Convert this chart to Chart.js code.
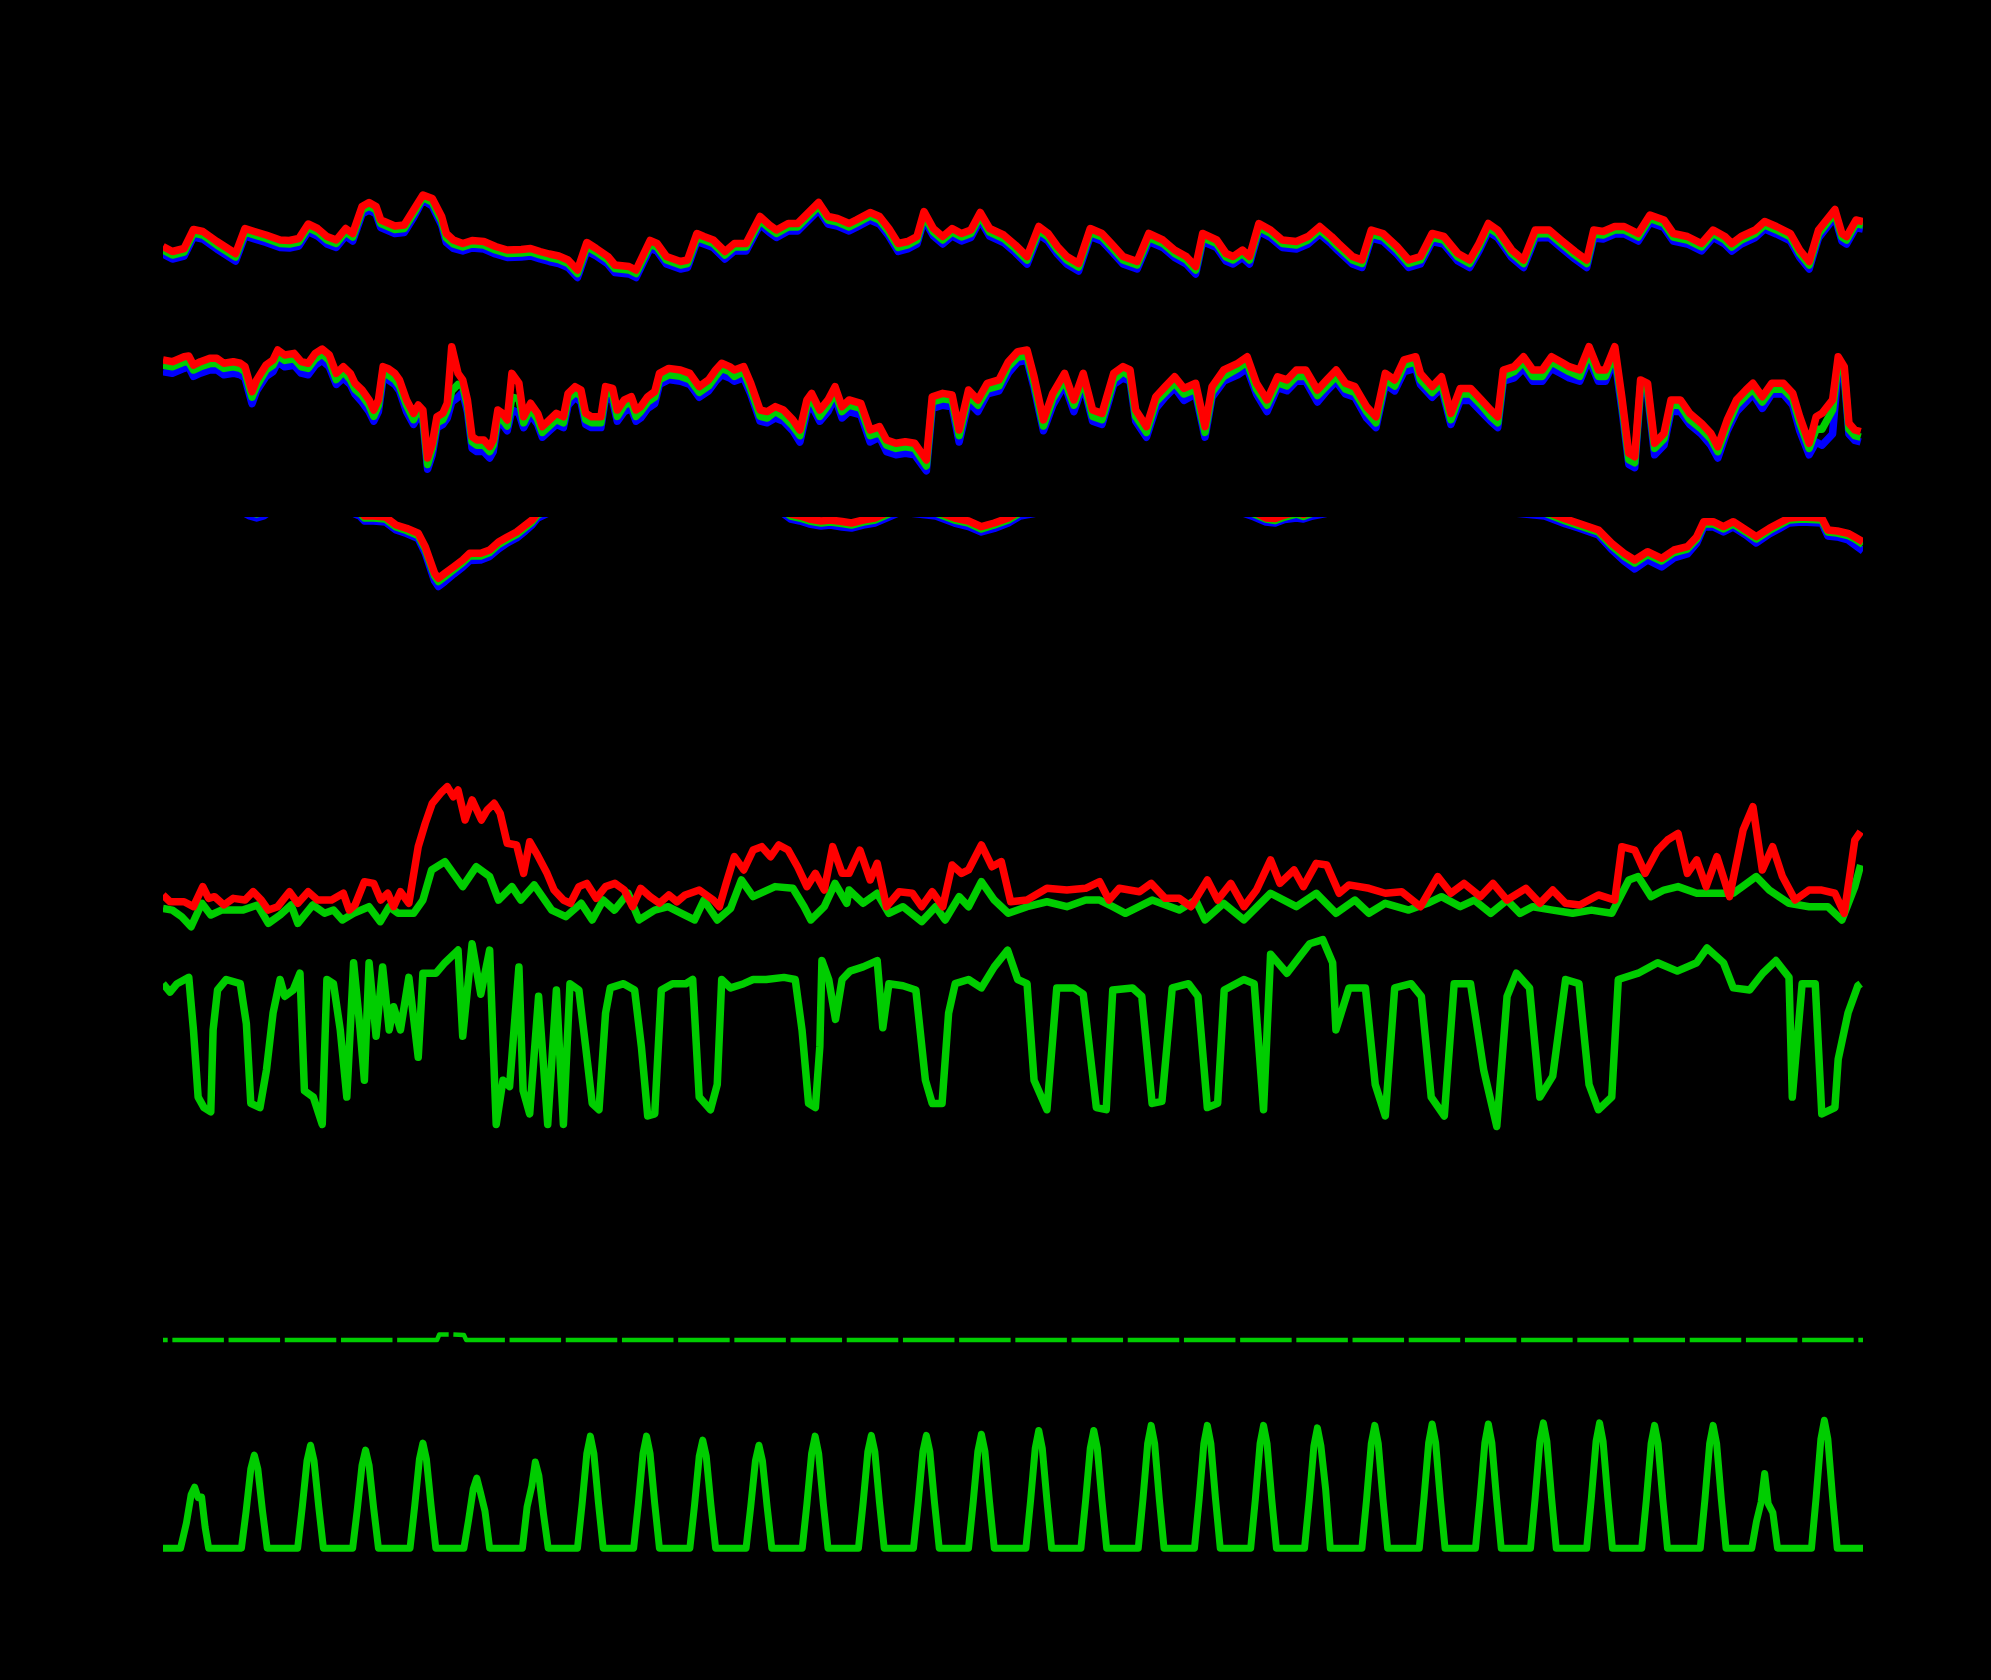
<!DOCTYPE html>
<html>
<head>
<meta charset="utf-8">
<title>Meteogram</title>
<script src="https://cdn.jsdelivr.net/npm/chart.js@4.4.1/dist/chart.umd.min.js"></script>
<style>
    html, body { margin: 0; padding: 0; background: #000; }
    body { width: 1991px; height: 1680px; position: relative; overflow: hidden; }
    canvas { position: absolute; left: 163px; display: block; }
</style>
</head>
<body>
<canvas id="tempChart" width="1700" height="140" style="top:160px"></canvas>
<canvas id="humChart" width="1700" height="160" style="top:330px"></canvas>
<canvas id="upperChart" width="1700" height="90" style="top:517px"></canvas>
<canvas id="windChart" width="1700" height="170" style="top:770px"></canvas>
<canvas id="cloudChart" width="1700" height="210" style="top:927px"></canvas>
<canvas id="rainChart" width="1700" height="60" style="top:1290px"></canvas>
<canvas id="radChart" width="1700" height="160" style="top:1400px"></canvas>
<script>
// time axis is hours since start of the month
var HOURS_MAX = 726;

var RED = '#ff0000', GREEN = '#00cd00', BLUE = '#0000ff';

// panel 1 - temperature
var tempHours = [0,4,9,13,17,23,31,35,39,44, 50,54,58,62,66,70,74,78,81,85,
    88,91,93,99,103,107,111,115,119,121, 124,128,132,137,142,147,153,157,161,165,
    169,173,177,181,185,190,193,199,202,208, 211,215,221,224,228,231,235,240,244,249,
    255,259,262,267,271,280,284,288,293,296, 302,306,310,314,318,322,325,329,333,337,
    341,345,349,353,359,364,369,374,378,382, 386,391,396,401,405,410,416,421,427,432,
    437,441,444,450,454,457,461,464,468,473, 478,484,489,494,499,502,508,512,516,521,
    527,532,537,542,547,553,558,562,566,570, 576,581,586,592,597,603,608,611,615,620,
    624,630,635,641,645,651,657,662,667,670, 674,680,684,689,695,699,703,707,714,717,
    719,723,726];
var tempRed = [10.7,9.7,10.3,14.1,13.7,11.7,9.3,14.3,13.7,13.0, 12.0,11.9,12.3,15.2,14.3,12.7,12.0,14.3,13.3,18.7,
    19.5,18.7,16.0,14.8,15.0,18.0,21.0,20.3,16.7,13.3, 12.0,11.3,11.9,11.7,10.7,10.0,10.1,10.3,9.7,9.2,
    8.8,8.0,6.0,11.5,10.3,8.7,7.0,6.7,6.0,11.9, 11.3,8.7,7.7,8.0,13.3,12.7,12.0,9.7,11.3,11.3,
    16.7,15.0,14.0,15.3,15.3,19.5,16.7,16.3,15.3,16.0, 17.5,16.7,14.3,11.3,11.7,12.7,17.7,14.3,12.7,14.3,
    13.3,14.0,17.5,14.3,13.0,11.0,8.7,14.7,13.3,10.7, 8.7,7.3,14.3,13.3,11.3,8.7,7.7,13.3,12.0,10.0,
    8.7,6.7,13.3,12.0,9.3,8.7,10.0,8.7,15.3,14.0, 12.0,11.7,12.7,14.7,12.7,11.3,8.7,8.0,14.0,13.3,
    10.7,8.0,8.7,13.3,12.7,9.3,8.0,11.3,15.3,14.0, 10.0,8.0,14.0,14.0,12.0,9.7,8.0,14.0,13.7,14.7,
    14.7,13.3,17.0,16.0,13.3,12.7,11.3,14.0,12.7,11.3, 12.7,14.0,15.7,14.7,13.3,10.0,7.7,14.0,18.1,13.3,
    12.7,16.0,15.7];
var tempGreen = [10.0,9.0,9.6,13.4,13.0,11.0,8.6,13.6,13.0,12.3, 11.3,11.2,11.6,14.5,13.6,12.0,11.3,13.6,12.6,18.0,
    18.8,18.0,15.3,14.1,14.3,17.3,20.5,19.6,15.8,12.4, 11.2,10.6,11.2,11.0,10.0,9.3,9.4,9.6,9.0,8.5,
    8.1,7.3,5.3,10.7,9.6,8.0,6.3,6.0,5.3,11.1, 10.6,8.0,7.0,7.3,12.5,12.0,11.3,9.0,10.6,10.6,
    15.9,14.3,13.3,14.6,14.6,18.8,16.0,15.6,14.6,15.3, 16.8,16.0,13.6,10.5,11.0,12.0,16.9,13.6,12.0,13.6,
    12.6,13.3,16.8,13.6,12.3,10.3,8.0,13.9,12.6,10.0, 8.0,6.6,13.5,12.6,10.6,8.0,7.0,12.5,11.3,9.3,
    8.0,6.0,12.5,11.3,8.6,8.0,9.3,8.0,14.5,13.3, 11.3,11.0,12.0,14.0,12.0,10.6,8.0,7.3,13.2,12.6,
    10.0,7.3,8.0,12.5,12.0,8.6,7.3,10.6,14.5,13.3, 9.3,7.3,13.2,13.3,11.3,9.0,7.3,13.2,13.0,14.0,
    14.0,12.6,16.3,15.3,12.6,12.0,10.6,13.3,12.0,10.6, 12.0,13.3,15.0,14.0,12.6,9.3,7.0,13.2,17.4,12.6,
    12.0,15.3,15.0];
var tempBlue = [9.2,8.2,8.8,12.6,12.2,10.2,7.8,12.8,12.2,11.5, 10.5,10.4,10.8,13.7,12.8,11.2,10.5,12.8,11.8,17.2,
    18.0,17.2,14.5,13.3,13.5,16.5,20.0,18.8,15.0,11.5, 10.3,9.8,10.4,10.2,9.2,8.5,8.6,8.8,8.2,7.7,
    7.3,6.5,4.5,9.8,8.8,7.2,5.5,5.2,4.5,10.3, 9.8,7.2,6.2,6.5,11.7,11.2,10.5,8.2,9.8,9.8,
    15.1,13.5,12.5,13.8,13.8,18.0,15.2,14.8,13.8,14.5, 16.0,15.2,12.8,9.7,10.2,11.2,16.1,12.8,11.2,12.8,
    11.8,12.5,16.0,12.8,11.5,9.5,7.2,13.1,11.8,9.2, 7.2,5.8,12.7,11.8,9.8,7.2,6.2,11.7,10.5,8.5,
    7.2,5.2,11.7,10.5,7.8,7.2,8.5,7.2,13.7,12.5, 10.5,10.2,11.2,13.2,11.2,9.8,7.2,6.5,12.4,11.8,
    9.2,6.5,7.2,11.7,11.2,7.8,6.5,9.8,13.7,12.5, 8.5,6.5,12.4,12.5,10.5,8.2,6.5,12.4,12.2,13.2,
    13.2,11.8,15.5,14.5,11.8,11.2,9.8,12.5,11.2,9.8, 11.2,12.5,14.2,13.2,11.8,8.5,6.2,12.4,16.6,11.8,
    11.2,14.5,14.2];

// panel 2 - humidity
var humHours = [0,4,9,11,13,16,20,23,26,30, 33,35,38,40,44,47,49,52,56,59,
    62,65,68,71,74,77,80,82,85,88, 90,92,94,96,99,101,104,107,109,111,
    113,115,117,119.5,121.4,123.3,126,128,130,132, 134,137,139.5,141,143,145,147,149,152,154,
    157,160,162,165,168,171,173,176,178.5,180.5, 183,187,189,192,194,197,200,202,204,207,
    210,212,216,221,225,229,233,236,238.6,242, 244,248,251,255,258,261.5,265,269,272,275,
    277,280.5,284,287,290,
    293,298,302,306,309,313,317,321,326,328.5, 333,337,340,344,348,352,357,361,365,369,
    372,376,380,385,389,393,397,401,406,410, 413,415.4,420,424,428,432,436,441,445,448,
    453,459,463,467,471.5,476,480,484,488,493, 497,501,505,509,514,518,522,526,530,535,
    537,542,546,550,554,558.4,563,567,570,572.4, 577,581,585,589,593,598,600.5,605,609,613,
    616,620,623,626,628.5,631,634,637,641,644, 648,652,657,661,664,668,672,676,679,683,
    687,692,696,699,703,706,708.5,713,715.4,718, 720,722.5,725];
var humRed = [81.3,80.2,83.3,83.8,78.1,80.2,82.3,82.3,79.2,80.2, 79.2,77.1,61.5,68.8,78.1,81.3,87.5,84.4,85.4,80.2,
    79.2,85.4,88.1,84.4,72.9,77.1,72.9,66.7,62.5,56.3, 50.0,56.3,77.1,76.0,72.9,68.8,56.3,47.9,53.1,50.0,
    20.0,29.2,45.8,47.9,54.2,89.6,72.9,68.8,56.3,33.3, 31.3,31.3,27.1,31.3,50.0,47.9,43.8,72.9,66.7,45.8,
    54.2,47.9,39.6,43.8,47.9,45.8,60.4,64.6,62.5,47.9, 45.8,45.8,64.6,63.5,50.0,56.3,58.3,50.0,52.1,58.3,
    61.5,72.9,76.0,75.0,72.9,64.6,68.8,75.0,79.2,77.1, 75.0,77.1,66.7,50.0,49.0,52.1,50.0,43.8,37.5,56.3,
    60.4,50.0,56.3,64.6,52.1,
    56.3,54.2,37.5,39.6,31.3,29.2,30.2,29.2,18.8,58.3, 60.4,59.4,37.5,62.5,56.3,66.7,68.8,80.2,86.5,87.5,
    70.8,43.8,60.4,72.9,56.3,72.9,50.0,47.9,72.9,77.1, 75.0,50.0,39.6,58.3,64.6,70.8,63.5,66.7,39.6,64.6,
    75.0,79.2,83.3,66.7,56.3,70.8,68.8,75.0,75.0,62.5, 68.8,75.0,66.7,64.6,52.1,45.8,72.9,68.8,81.3,83.3,
    72.9,64.6,70.8,47.9,63.5,63.5,56.3,50.0,45.8,75.0, 77.1,83.3,75.0,75.0,83.3,79.2,77.1,75.0,89.6,75.0,
    75.0,89.6,58.3,22.9,20.8,68.8,66.7,29.2,35.4,56.3, 56.3,47.9,41.7,35.4,27.1,43.8,56.3,62.5,66.7,58.3,
    66.7,66.7,60.4,45.8,29.2,45.8,47.9,56.3,83.3,77.1, 41.7,37.5,36.5];
var humGreen = [78,77,80,80,75,77,79,79,76,77, 76,74,58,65,75,78,84,81,82,77,
    76,82,85,81,69,74,69,63,59,53, 46,53,74,72,69,65,53,44,50,46,
    16,26,42,44,50,62,66,65,53,30, 28,28,24,28,46,44,40,58,57,42,
    51,44,36,40,44,42,57,61,59,44, 42,42,61,60,46,53,55,46,49,55,
    58,69,72,71,69,61,65,71,76,74, 71,74,63,46,45,49,46,40,34,53,
    57,46,53,61,49,
    53,51,34,36,28,26,27,26,15,55, 57,56,34,59,53,63,65,77,83,84,
    67,40,57,69,53,69,46,44,69,74, 71,46,36,55,61,67,60,63,36,61,
    71,76,80,63,53,67,65,71,71,59, 65,71,63,61,49,42,69,65,78,80,
    69,61,67,44,60,60,53,46,42,71, 74,80,71,71,80,76,74,71,86,71,
    71,86,55,19,17,65,63,26,32,53, 53,44,38,32,24,40,53,59,63,55,
    63,63,57,42,26,38,38,50,80,73, 38,34,33];
var humBlue = [74,73,76,77,71,73,75,75,72,73, 72,70,54,62,71,74,80,77,78,73,
    72,78,81,77,66,70,66,60,55,49, 43,49,70,69,66,62,49,41,46,43,
    13,22,39,41,45,55,58,61,49,26, 24,24,20,24,43,41,37,50,48,39,
    47,41,33,37,41,39,53,58,55,41, 39,39,58,56,43,49,51,43,45,51,
    54,66,69,68,66,58,62,68,72,70, 68,70,60,43,42,45,43,37,30,49,
    53,43,49,58,45,
    49,47,30,33,24,22,23,22,12,51, 53,52,30,55,49,60,62,73,80,81,
    64,37,53,66,49,66,43,41,66,70, 68,43,33,51,58,64,56,60,33,58,
    68,72,76,60,49,64,62,68,68,55, 62,68,60,58,45,39,66,62,74,76,
    66,58,64,41,56,56,49,43,39,68, 70,76,68,68,76,72,70,68,82,68,
    68,82,51,16,14,62,60,22,28,49, 49,41,35,28,20,37,49,55,60,51,
    60,60,53,37,22,30,28,35,76,70, 35,31,30];

// panel 3 - upper level, values above the top are cut off
var upperHours = [0,30,37,40,43,50,70,84,86,90, 95,99.5,104,109,112,114,116,117.6,120.4,124.2,
    128,131,135.7,139.5,143.3,147,151,154.7,157.6,160, 170,220,264,268,272,276,281,285,290,294,
    299,304,308,315,330,338,344,349.5,355,361, 366,400,460,466,471,475,479,484,487,491,
    500,530,590,599,604.5,613,618.7,624,628.5,634, 640,645.3,651,655,658,662,666.4,670.6,676,680.4,
    686,690,694.4,700,708.4,711,715,719.6,722.5,726];
var upperRed = [110,105,97,95,97,108,110,96,91,91, 90,82,78.7,73.7,60.3,47,33.7,28.7,33.7,40.3,
    47,53.7,53.7,57,65,70,75,81.7,87,94, 105,110,100,93,91,88,86,87,85.5,84,
    87,89,93,100,96,89,86,80.3,84,89, 96,110,100,95,89,88.5,92,95,92.5,96,
    100,110,96,88,83.7,77,63.7,53.7,47,55.3, 48.7,57,60.3,70.3,85.3,85.3,80.3,85.3,77,70.3,
    78.7,83.7,89,90,89,77,76,73.7,70,65.3];
var upperGreen = [108,103,95,93,95,106,108,94,89,89, 88,80,76.5,71.5,58,44.5,31,25.5,30.5,37.5,
    44.5,51,51,54.5,62.5,67.5,72.5,79.5,85,92, 103,108,98,91,89,86,84,85,83.5,82,
    85,87,91,98,94,87,84,78,82,87, 94,108,98,93,88,86.5,90,93,90.5,94,
    98,108,94,86,81.5,75,61,50.5,44,52.5, 46,54.5,58,68,83,83,78,83,75,68,
    76.5,81.5,87,88,87,75,74,71.5,68,62.5];
var upperBlue = [105,100,91,89,91,103,105,91,86,86, 85,77,73.5,68.5,54,40,26,20.5,25.5,33,
    40,46.5,47,50.5,58,64,69,76,82,89, 100,105,95,88,86,83,81,82,80,79,
    82,84,88,95,91,84,80.5,75,78.5,84, 91,105,95,90,85,84,87.5,89,88,91,
    95,105,91,83,79,72,57.5,46,38,47, 40,49,53,64,80,80,75,80,72,64,
    73,78,84,85,84,71,70,67,62,56];

// panel 4 - wind gust (red) and mean wind (green)
var gustHours = [0,3,9,13,17,19.5,22,26,30,35, 38.5,42,45,49,54,57.6,62,66,72,77,
    79.5,82,86,90,93,96,98.5,101.4,105,109, 112,115,118.5,121.4,124,126,129,132,136,138.5,
    141.4,144,147,151,154,156.6,159.5,164,167,171, 174,177.6,181,185,189,193,197,200.5,204,208,
    212,216,219.5,223,229,235,237.6,240.5,244,248, 252,255.7,259.5,263,267,271,275,278.6,282.4,286,
    290,
    293,297.6,302,305,309,314.4,320,324,328.5,333, 337,341,344,349.5,354,358,362,369,377.5,386,
    394,400,404,408.4,417,422,428,434,439,446, 450.4,456,461.6,467,473,477,483,487,492.5,497,
    502.3,506.5,515,522,529,537,544.4,550,555.6,562.6, 568,574,582,588,593.5,599,605,613,620,623,
    628.5,633,638.3,642.5,647,651,655,659,663.6,669, 674.8,679,683,687.4,691.6,697,703,708.4,714,718,
    722.5,725];
var gustValues = [26.5,22.5,22.5,19.6,31.4,24.5,25.5,20.6,24.5,23.5, 28.4,23.5,17.6,19.6,28.4,21.6,28.4,23.5,23.5,27.5,
    17.6,20.6,34.3,33.3,23.5,27.5,19.6,28.4,21.6,54.9, 68.6,80.4,86.3,90.2,84.3,88.2,70.6,82.4,70.6,76.5,
    80.4,74.5,56.9,55.9,39.2,57.8,51.0,39.2,29.4,23.5, 21.6,31.4,33.3,24.5,31.4,33.3,29.4,19.6,30.4,25.5,
    21.6,26.5,22.5,26.5,29.4,23.5,19.6,33.3,49.0,41.2, 52.9,54.9,49.0,55.9,52.9,43.1,31.4,39.2,29.4,54.9,
    39.2,
    39.2,52.9,35.3,45.1,19.6,28.4,27.5,19.6,28.4,19.6, 44.1,39.2,41.2,55.9,43.1,46.1,22.5,23.5,30.4,29.4,
    30.4,34.3,23.5,30.4,28.4,33.3,24.5,24.5,19.6,35.3, 23.5,33.3,19.6,29.4,47.1,33.3,41.2,31.4,45.1,44.1,
    27.5,32.4,30.4,27.5,28.4,19.6,37.3,27.5,33.3,25.5, 33.3,23.5,30.4,21.6,29.4,21.6,20.6,26.5,23.5,54.9,
    52.9,39.2,52.9,58.8,62.7,39.2,47.1,31.4,49.0,25.5, 64.7,78.4,41.2,54.9,37.3,23.5,29.4,29.4,27.5,15.7,
    58.8,63.7];
var windHours = [0,4,8,12,16.6,20.4,25,30,34,40.4, 45,50,54.7,57.6,64,69,72.8,76.6,81.4,88,
    92.8,96.6,100.4,107,111,114.7,120.4,128,133.8,139.5, 143.3,149,152.8,158.5,166,172,178.6,183.3,188,192.8,
    198.6,203.3,210,215.7,221.4,227,231,236.7,242.4,247, 252,261.4,269,273.8,276.7,282.4,287,292,
    293,299,305,310,316,324,330,334,340,344, 349.5,355,361,369,377.5,386,394,400,405.6,411,
    422.4,434,441,445,453,461.6,473,484,492.5,501, 509,515,522,532,540,546,554,560,567,574,
    579.5,585,593.5,602,610,618.7,626,630,635.5,641, 647,655,663.6,670.6,680.4,686,694.4,703,711,717,
    722.5,725];
var windValues = [18.6,17.6,13.7,7.8,21.6,14.7,17.6,17.6,17.6,20.6, 9.8,14.7,20.6,9.8,20.6,15.7,17.6,11.8,15.7,19.6,
    10.8,19.6,15.7,15.7,23.5,41.2,46.1,31.4,43.1,37.3, 23.5,31.4,23.5,32.4,17.6,13.7,21.6,11.8,23.5,17.6,
    27.5,11.8,17.6,19.6,15.7,11.8,23.5,11.8,18.6,35.3, 25.5,31.4,30.4,19.6,11.8,19.6,33.3,21.6,
    29.4,21.6,27.5,15.7,19.6,10.8,19.6,11.8,25.5,19.6, 34.3,23.5,15.7,19.6,22.5,19.6,23.5,23.5,19.6,15.7,
    23.5,17.6,23.5,11.8,21.6,11.8,27.5,19.6,27.5,15.7, 23.5,15.7,21.6,17.6,21.6,25.5,19.6,23.5,15.7,23.5,
    15.7,19.6,17.6,15.7,17.6,15.7,35.3,37.3,25.5,29.4, 31.4,27.5,27.5,27.5,37.3,29.4,21.6,19.6,19.6,11.8,
    31.4,44.1];

// panel 5 - cloud / moisture
var cloudHours = [0,3,6,11,13,15,17.5,20.4,21.4,23.3, 27,33,35.6,37.5,41.4,44.2,47,50,52,55.6,
    58.5,60.4,64.2,68,70,72.8,75.7,78.5,81.4,84.2, 86,88,91,93.8,96.6,98.5,101.4,105,109,111,
    116.6,120.4,126,128,132,135.7,139.5,142.3,145.2,148, 152,153.8,156.6,160.4,164.3,168,171,173.8,177.6,180.5,
    183.3,186.2,189,191,196.7,201.4,204.3,207,210,212.8, 217.6,223.3,226.2,229,233.8,236.7,238.6,242.4,248,252,
    257.6,265.2,270,272.9,275.7,278.6,280.5,281.4,284.3,287.2, 290,
    293.4,299,305,307.4,310,316,321.5,325.6,328.5,332.7, 335.5,338.3,344,349.5,355,360.7,365,369,372,377.5,
    381.7,389,393,398.6,402.8,405.6,414,418,422.4,426.6, 431,438,442,446,450.4,453.2,461.6,466,470,473,
    480,485.5,489.7,495.3,499.5,500.9,506.5,513.5,517.7,522, 526,533,537.4,541.6,547.2,551.4,558.4,564,569.6,574,
    578,583.6,588,593.5,599,604.7,609,613,618.7,621.5, 630,638.3,646.7,655,659.4,666.4,670.6,677.6,683.2,688.8,
    694.4,695.8,700,705.6,708.4,714,715.4,719.6,723.8,725];
var cloudValues = [73,69,73,76,51,19,14,12,51,70, 75,73,54,16,14,32,59,75,67,70,
    78,22,19,6,75,73,51,19,83,51, 27,83,48,81,51,62,51,76,38,78,
    78,83,89,48,92,68,89,6,27,24, 81,22,11,67,6,70,6,73,70,43,
    16,13,59,71,73,70,43,10,11,70, 73,73,75,19,13,25,75,71,73,75,
    75,76,75,51,16,14,43,84,75,56, 75,
    79,81,84,52,73,72,70,27,16,16, 59,73,75,71,81,89,75,73,27,13,
    71,71,68,14,13,70,71,67,16,17, 71,73,67,14,16,70,75,73,13,87,
    78,86,92,94,83,51,71,71,25,10, 71,73,67,19,10,73,73,32,5,67,
    78,71,19,29,75,73,25,13,19,75, 78,83,79,83,90,83,71,70,78,84,
    76,19,73,73,11,14,37,59,72,73];

// panel 6 - precipitation (one missing reading a day)
var rainHours = [0, 2,3,4, 26,27,28, 50,51,52, 74,75,76, 98,99,100,
    117,118,122,123,124,128.5,129.5, 146,147,148,
    170,171,172, 194,195,196, 218,219,220, 242,243,244, 266,267,268, 290,291,292,
    314,315,316, 338,339,340, 362,363,364, 386,387,388, 410,411,412, 434,435,436,
    458,459,460, 482,483,484, 506,507,508, 530,531,532, 554,555,556, 578,579,580,
    602,603,604, 626,627,628, 650,651,652, 674,675,676, 698,699,700, 722,723,724, 726];
var rainValues = [0, 0,null,0, 0,null,0, 0,null,0, 0,null,0, 0,null,0,
    0,0.55,0.55,null,0.55,0.5,0, 0,null,0,
    0,null,0, 0,null,0, 0,null,0, 0,null,0, 0,null,0, 0,null,0,
    0,null,0, 0,null,0, 0,null,0, 0,null,0, 0,null,0, 0,null,0,
    0,null,0, 0,null,0, 0,null,0, 0,null,0, 0,null,0, 0,null,0,
    0,null,0, 0,null,0, 0,null,0, 0,null,0, 0,null,0, 0,null,0, 0];

// panel 7 - global radiation
var radHours = [0,
    7.5,10,12,13.5,15,16.5,18,19.5,
    33.5,35.5,37.5,39,40.5,42.5,44.5,
    57.5,59.5,61.5,63,64.5,66.5,68.5,
    81,83,85,86.5,88,90,92,
    105.5,107.5,109.5,111,112.5,114.5,116.5,
    128.5,130.5,132.5,134,135.5,137.5,139.5,
    153.5,155.5,157.5,159,160.5,162.5,164.5,
    177,179,181,182.5,184,186,188,
    201,203,205,206.5,208,210,212,
    225,227,229,230.5,232,234,236,
    249,251,253,254.5,256,258,260,
    273,275,277,278.5,280,282,284,
    297,299,301,302.5,304,306,308,
    320.5,322.5,324.5,326,327.5,329.5,331.5,
    344,346,348,349.5,351,353,355,
    368.5,370.5,372.5,374,375.5,377.5,379.5,
    392,394,396,397.5,399,401,403,
    416.5,418.5,420.5,422,423.5,425.5,427.5,
    440.5,442.5,444.5,446,447.5,449.5,451.5,
    464.5,466.5,468.5,470,471.5,473.5,475.5,
    487.5,489.5,491.5,493,494.5,496.5,498.5,
    512,514,516,517.5,519,521,523,
    536.5,538.5,540.5,542,543.5,545.5,547.5,
    560.5,562.5,564.5,566,567.5,569.5,571.5,
    584,586,588,589.5,591,593,595,
    608,610,612,613.5,615,617,619,
    631.5,633.5,635.5,637,638.5,640.5,642.5,
    656.5,658.5,660.5,662,663.5,665.5,667.5,
    678.5,680.5,682.5,684,685.5,687.5,689.5,
    704,706,708,709.5,711,713,715,
    726];
var radValues = [0,
    0,170,360,412,340,345,140,0,
    0,250,535,628,535,250,0,
    0,280,590,695,590,280,0,
    0,265,560,662,560,265,0,
    0,285,600,709,600,285,0,
    0,190,400,473,380,250,0,
    0,280,420,581,490,230,0,
    0,300,640,756,640,300,0,
    0,300,640,756,640,300,0,
    0,290,620,729,620,290,0,
    0,280,590,695,590,280,0,
    0,300,640,756,640,300,0,
    0,305,650,761,650,305,0,
    0,305,650,761,650,305,0,
    0,310,655,769,655,310,0,
    0,320,675,794,675,320,0,
    0,320,675,794,675,320,0,
    0,330,705,829,705,330,0,
    0,330,705,829,705,330,0,
    0,330,705,829,705,330,0,
    0,325,690,812,690,400,0,
    0,330,705,829,705,330,0,
    0,335,710,838,710,335,0,
    0,335,710,838,710,335,0,
    0,340,720,846,720,340,0,
    0,340,720,846,720,340,0,
    0,330,705,829,705,330,0,
    0,330,705,829,705,330,0,
    0,180,310,504,300,240,0,
    0,345,735,863,735,345,0,
    0];

function toPoints(hours, values) {
    return hours.map(function (h, i) { return { x: h, y: values[i] }; });
}

function line(hours, values, color, width) {
    return {
        data: toPoints(hours, values),
        borderColor: color,
        backgroundColor: color,
        borderWidth: width,
        pointRadius: 0,
        tension: 0,
        spanGaps: false,
        fill: false
    };
}

function panel(id, datasets, yMin, yMax) {
    var ctx = document.getElementById(id).getContext('2d');
    return new Chart(ctx, {
        type: 'line',
        data: { datasets: datasets },
        options: {
            responsive: false,
            animation: false,
            events: [],
            layout: { padding: 0 },
            elements: { line: { borderCapStyle: 'butt', borderJoinStyle: 'round' } },
            plugins: { legend: { display: false }, tooltip: { enabled: false } },
            scales: {
                x: { type: 'linear', min: 0, max: HOURS_MAX, display: false },
                y: { min: yMin, max: yMax, display: false }
            }
        }
    });
}

// first dataset is drawn on top
panel('tempChart', [
    line(tempHours, tempRed, RED, 7.5),
    line(tempHours, tempGreen, GREEN, 7.5),
    line(tempHours, tempBlue, BLUE, 7.5)
], 0, 28);

panel('humChart', [
    line(humHours, humRed, RED, 7.5),
    line(humHours, humGreen, GREEN, 7.5),
    line(humHours, humBlue, BLUE, 7.5)
], 0, 100);

panel('upperChart', [
    line(upperHours, upperRed, RED, 7.5),
    line(upperHours, upperGreen, GREEN, 7.5),
    line(upperHours, upperBlue, BLUE, 7.5)
], 0, 90);

panel('windChart', [
    line(gustHours, gustValues, RED, 7.5),
    line(windHours, windValues, GREEN, 7.5)
], 0, 100);

panel('cloudChart', [
    line(cloudHours, cloudValues, GREEN, 7.5)
], 0, 100);

panel('rainChart', [
    line(rainHours, rainValues, GREEN, 4.5)
], -1, 5);

panel('radChart', [
    line(radHours, radValues, GREEN, 7)
], -80, 1000);
</script>
</body>
</html>
